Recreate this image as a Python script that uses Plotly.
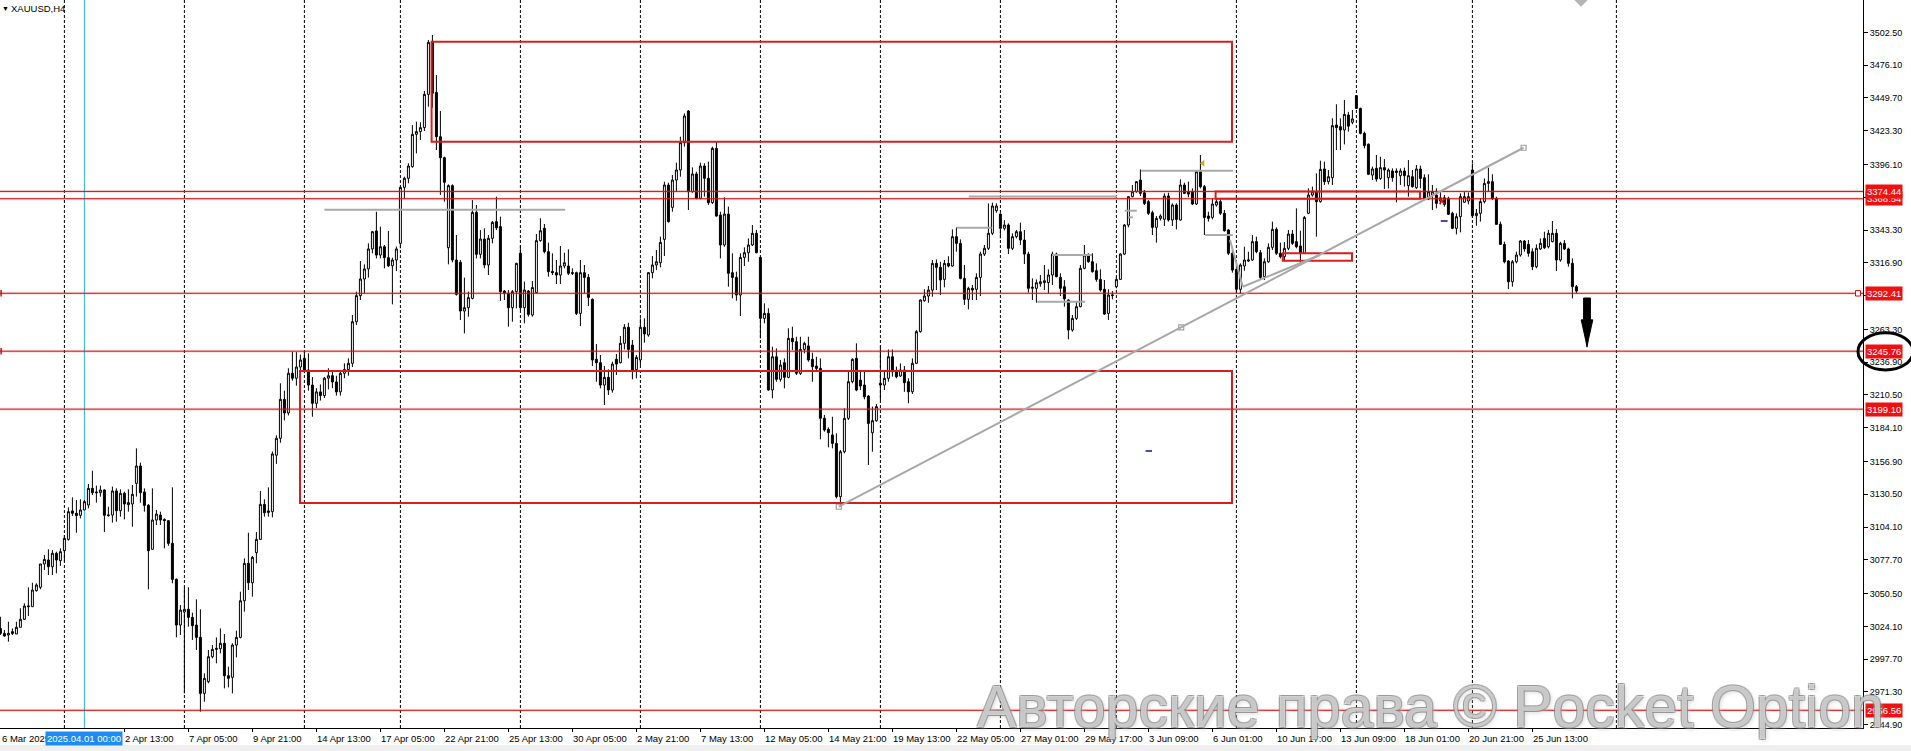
import plotly.graph_objects as go

# ---------------- data (H4 bars, index 0 = 31 Mar 01:00) ----------------
BAR = list(range(-16, 379))

OPEN = [
3022.5,3018.5,3017.2,3019.9,3018.0,3023.4,3029.8,3040.0,3040.0,3052.9,
3055.6,3074.4,3077.6,3072.2,3083.0,3077.1,3085.1,3094.2,3117.1,3115.2,
3113.6,3117.9,3121.9,3135.3,3132.4,3131.8,3134.0,3113.3,3113.8,3133.2,
3117.3,3131.3,3123.8,3122.7,3139.3,3153.3,3132.4,3121.6,3086.2,3109.8,
3113.8,3110.3,3109.3,3091.0,3062.0,3025.2,3035.7,3037.9,3031.4,3025.2,
3015.3,2970.2,2979.6,2999.7,3005.6,3006.2,3010.5,2984.4,2983.1,3009.1,
3015.3,3044.8,3074.9,3059.3,3083.5,3094.2,3122.4,3117.1,3116.5,3162.0,
3175.6,3207.0,3196.0,3228.0,3224.0,3233.0,3240.0,3230.6,3218.5,3203.8,
3213.0,3210.0,3224.0,3226.0,3221.0,3213.0,3228.0,3231.0,3236.0,3269.5,
3290.5,3303.9,3312.0,3328.1,3342.6,3323.2,3329.9,3321.1,3314.6,3319.2,
3332.6,3377.7,3385.0,3394.4,3420.4,3422.6,3425.8,3452.6,3494.5,3454.2,
3418.5,3401.6,3329.1,3379.1,3319.2,3317.3,3278.1,3280.8,3288.3,3357.6,
3323.8,3336.1,3315.2,3336.7,3350.1,3346.1,3294.2,3292.4,3280.8,3293.7,
3324.6,3280.8,3294.2,3274.9,3292.9,3334.8,3344.7,3325.9,3310.0,3309.0,
3307.1,3314.4,3314.4,3309.0,3309.0,3276.2,3309.0,3305.2,3287.5,3239.2,
3236.5,3218.5,3224.7,3214.5,3239.2,3236.5,3252.1,3265.0,3250.7,3230.9,
3238.7,3265.0,3258.8,3309.0,3315.2,3317.0,3335.8,3379.6,3361.6,3383.6,
3391.7,3413.7,3439.2,3374.2,3388.5,3368.9,3394.9,3385.0,3365.4,3409.1,
3355.4,3331.3,3356.2,3309.0,3305.2,3291.0,3321.3,3325.1,3331.3,3340.7,
3321.3,3272.2,3276.2,3214.5,3241.3,3223.1,3236.5,3224.7,3256.1,3253.4,
3227.9,3247.2,3250.0,3239.2,3233.8,3231.9,3191.7,3182.8,3178.3,3171.5,
3128.6,3164.8,3191.7,3221.2,3240.0,3222.5,3218.5,3209.6,3180.1,3189.8,
3219.9,3218.5,3223.9,3241.3,3229.2,3225.8,3230.6,3221.2,3213.1,3236.0,
3261.5,3286.4,3290.2,3295.0,3316.5,3313.3,3303.6,3316.5,3314.4,3338.0,
3332.6,3304.4,3287.5,3296.4,3295.6,3305.2,3324.0,3328.6,3340.7,3358.9,
3356.2,3344.7,3347.4,3328.6,3338.0,3342.0,3335.3,3324.0,3296.4,3296.4,
3300.1,3301.0,3301.0,3307.1,3324.0,3305.2,3297.7,3287.0,3262.8,3272.2,
3281.6,3312.5,3323.2,3317.8,3310.6,3303.6,3295.6,3276.2,3290.5,3297.7,
3303.6,3324.0,3347.4,3370.2,3374.2,3383.6,3373.4,3366.2,3357.3,3345.5,
3352.7,3352.0,3370.7,3351.4,3363.5,3351.4,3379.6,3374.2,3374.2,3364.3,
3390.3,3378.3,3354.6,3353.5,3363.5,3366.2,3356.8,3343.4,3324.6,3311.7,
3295.6,3314.4,3318.4,3319.2,3334.0,3325.1,3305.8,3317.8,3329.4,3343.9,
3324.6,3321.9,3328.6,3340.1,3334.0,3330.5,3324.6,3356.8,3371.5,3374.2,
3366.2,3392.5,3382.3,3385.5,3427.9,3426.6,3423.9,3436.0,3430.1,3451.6,
3441.3,3421.2,3412.4,3387.6,3393.0,3384.9,3393.6,3385.5,3390.9,3390.9,
3387.1,3390.9,3379.1,3386.3,3377.4,3392.5,3385.5,3368.3,3371.5,3371.5,
3366.7,3369.3,3368.8,3356.8,3344.7,3354.1,3365.7,3366.7,3391.7,3354.9,
3356.8,3366.2,3380.9,3382.3,3368.8,3347.9,3331.8,3318.4,3301.7,3317.8,
3323.2,3334.5,3331.8,3325.9,3313.8,3328.1,3336.6,3329.9,3334.0,3340.7,
3319.2,3332.6,3328.1,3316.5,3297.7]

HIGH = [
3031.9,3021.2,3027.9,3022.5,3027.9,3038.7,3042.7,3055.6,3059.3,3058.8,
3074.4,3081.6,3086.2,3085.6,3084.3,3087.0,3097.7,3120.0,3128.1,3125.9,
3126.5,3125.9,3138.8,3149.5,3137.5,3137.5,3134.5,3120.5,3136.7,3135.3,
3134.5,3132.6,3134.5,3138.0,3167.5,3156.0,3135.3,3122.7,3135.3,3117.9,
3116.5,3111.1,3109.8,3136.1,3062.8,3041.3,3055.6,3055.6,3035.2,3045.9,
3037.9,2986.3,3005.1,3009.1,3015.3,3022.5,3018.0,2991.7,3010.5,3020.7,
3052.1,3078.9,3099.6,3080.8,3100.1,3133.2,3126.5,3136.1,3165.0,3178.0,
3219.9,3214.0,3232.0,3245.4,3245.0,3243.0,3245.5,3244.0,3225.0,3216.0,
3219.0,3225.0,3232.0,3230.0,3226.0,3230.0,3236.0,3240.0,3274.9,3293.7,
3318.4,3315.7,3332.6,3342.6,3358.1,3346.1,3331.3,3342.6,3321.1,3330.0,
3378.3,3386.3,3397.1,3427.9,3430.6,3430.1,3455.3,3496.4,3500.4,3468.2,
3439.2,3402.4,3380.1,3380.1,3339.3,3319.2,3305.0,3293.7,3367.5,3363.5,
3343.4,3344.7,3339.3,3350.6,3370.2,3354.1,3295.0,3295.0,3295.0,3317.0,
3331.3,3301.8,3295.0,3302.3,3340.1,3352.8,3348.2,3333.2,3324.6,3319.2,
3330.5,3325.1,3327.8,3312.5,3309.8,3319.2,3315.2,3307.9,3288.3,3251.5,
3242.7,3233.8,3231.1,3237.3,3243.5,3258.0,3267.6,3268.7,3254.8,3242.7,
3272.2,3272.2,3309.5,3322.4,3327.3,3338.0,3382.3,3381.5,3387.7,3397.6,
3418.5,3437.3,3440.0,3393.8,3390.3,3397.6,3397.1,3398.4,3410.5,3414.5,
3358.1,3369.7,3362.2,3324.6,3309.8,3324.6,3329.4,3336.6,3347.4,3343.4,
3321.9,3284.3,3280.3,3249.4,3248.0,3238.7,3240.0,3264.2,3265.5,3257.4,
3257.4,3253.4,3257.4,3244.6,3241.3,3240.0,3194.4,3184.4,3193.0,3179.6,
3166.2,3199.7,3229.2,3240.0,3252.1,3229.2,3230.6,3210.4,3201.1,3203.2,
3249.9,3230.6,3247.2,3247.2,3233.3,3235.9,3233.8,3223.9,3240.0,3262.8,
3287.5,3295.6,3298.3,3319.2,3319.7,3317.8,3319.2,3322.2,3343.9,3345.5,
3335.8,3315.2,3297.7,3299.1,3308.5,3325.9,3331.3,3364.8,3365.4,3364.8,
3356.8,3351.3,3348.7,3340.7,3343.4,3349.3,3343.4,3325.9,3304.4,3303.6,
3307.1,3315.2,3311.7,3325.9,3325.1,3308.5,3303.0,3287.5,3274.9,3285.6,
3315.2,3331.3,3324.6,3324.6,3316.5,3311.7,3303.1,3295.6,3294.2,3305.2,
3324.6,3348.2,3370.7,3379.6,3382.8,3392.2,3375.6,3367.5,3358.9,3354.6,
3356.0,3372.9,3373.4,3364.8,3364.8,3384.2,3381.5,3382.3,3376.9,3391.7,
3403.8,3379.6,3358.1,3368.9,3368.9,3368.1,3359.5,3343.9,3329.9,3312.5,
3316.5,3329.9,3325.9,3339.3,3338.0,3327.2,3320.5,3332.6,3350.1,3345.5,
3333.2,3333.7,3343.4,3343.4,3360.8,3342.8,3354.6,3376.9,3378.3,3389.0,
3399.2,3398.4,3391.7,3433.3,3444.6,3433.3,3448.1,3438.5,3440.0,3452.1,
3441.9,3422.6,3413.1,3394.4,3403.8,3402.4,3400.5,3393.0,3393.0,3393.0,
3393.0,3393.6,3399.7,3391.7,3395.7,3395.2,3388.2,3388.2,3379.6,3376.9,
3374.2,3371.5,3370.2,3358.1,3356.8,3372.9,3374.2,3373.7,3397.0,3360.3,
3368.9,3384.9,3393.6,3388.2,3370.2,3350.1,3334.0,3319.2,3319.2,3325.9,
3335.3,3335.3,3335.3,3328.6,3331.8,3336.6,3342.0,3343.4,3350.6,3344.1,
3333.9,3335.3,3329.1,3320.5,3299.1]

LOW = [
3017.2,3015.8,3011.8,3017.2,3018.0,3023.4,3029.3,3032.5,3040.0,3052.1,
3054.0,3069.5,3065.5,3065.5,3066.9,3072.8,3076.2,3093.2,3113.0,3099.6,
3111.1,3117.9,3119.2,3129.9,3123.8,3128.6,3100.1,3112.5,3107.7,3108.5,
3112.5,3110.3,3116.5,3104.4,3128.6,3123.8,3116.5,3054.0,3086.2,3105.8,
3105.8,3087.0,3089.0,3058.8,3015.3,3017.2,2970.2,3023.9,3013.2,3005.1,
2955.4,2963.5,2978.3,2998.4,2994.4,3002.4,2974.2,2975.0,2970.2,2999.2,
3014.5,3036.0,3053.4,3048.1,3074.9,3093.7,3112.5,3112.5,3112.0,3155.0,
3172.0,3190.0,3194.0,3222.0,3218.0,3226.0,3228.0,3214.0,3193.0,3200.0,
3206.0,3208.0,3215.0,3216.0,3210.0,3210.0,3224.0,3226.0,3233.0,3266.9,
3287.0,3292.4,3305.0,3324.6,3320.5,3320.5,3312.5,3313.5,3283.5,3310.3,
3328.6,3368.9,3381.0,3393.5,3405.1,3415.9,3423.1,3442.7,3441.9,3407.8,
3371.6,3366.2,3315.7,3317.3,3290.5,3270.9,3260.1,3273.6,3287.5,3320.5,
3320.5,3312.5,3307.1,3332.6,3343.4,3286.2,3287.0,3265.5,3269.5,3280.3,
3278.9,3268.2,3273.6,3273.6,3292.3,3333.9,3324.6,3305.8,3307.1,3299.9,
3299.9,3312.5,3307.1,3307.1,3274.9,3266.0,3292.3,3282.2,3233.8,3221.2,
3215.8,3202.4,3210.5,3212.4,3226.6,3235.9,3247.2,3240.0,3223.1,3223.9,
3234.6,3252.6,3257.4,3304.4,3311.1,3313.3,3322.4,3349.3,3358.1,3374.2,
3386.3,3410.5,3359.5,3373.4,3368.1,3368.1,3370.2,3363.5,3364.3,3354.1,
3320.5,3329.9,3297.7,3288.3,3286.4,3274.1,3314.4,3317.8,3330.5,3324.6,
3256.1,3268.2,3213.9,3207.8,3221.2,3221.2,3215.8,3223.9,3246.7,3226.6,
3226.6,3244.0,3237.3,3221.2,3230.6,3174.8,3180.9,3168.3,3167.5,3127.2,
3120.5,3163.5,3190.3,3219.9,3213.5,3214.5,3207.0,3154.1,3164.8,3189.0,
3206.4,3214.5,3221.2,3225.2,3223.9,3225.2,3213.1,3203.8,3211.3,3235.4,
3260.7,3285.6,3284.8,3289.7,3295.0,3291.0,3297.2,3313.3,3313.8,3325.9,
3303.6,3283.0,3279.5,3287.0,3287.0,3290.2,3322.4,3327.2,3339.3,3357.3,
3336.6,3343.1,3324.0,3327.2,3336.6,3331.3,3316.0,3292.9,3287.0,3284.8,
3297.7,3295.0,3292.4,3299.1,3305.2,3290.2,3281.6,3255.3,3261.5,3270.9,
3281.1,3311.7,3317.0,3309.0,3301.7,3293.7,3274.9,3270.9,3287.5,3296.4,
3303.1,3323.2,3345.5,3369.7,3373.4,3370.7,3363.5,3355.4,3339.3,3333.2,
3351.0,3346.6,3350.1,3346.6,3343.9,3350.9,3372.3,3369.7,3363.5,3363.5,
3376.9,3339.3,3350.1,3351.9,3362.2,3355.4,3342.0,3323.2,3309.0,3292.4,
3292.4,3310.6,3317.6,3318.6,3324.6,3303.6,3303.1,3317.0,3327.2,3323.2,
3320.5,3318.6,3327.2,3331.3,3328.6,3317.0,3324.0,3356.2,3370.2,3338.0,
3365.4,3379.6,3380.1,3379.6,3407.8,3407.8,3412.3,3422.6,3428.5,3440.8,
3420.4,3409.1,3387.6,3383.6,3382.3,3383.6,3376.4,3376.9,3382.3,3365.6,
3379.6,3378.3,3370.2,3377.4,3376.4,3376.9,3367.5,3367.5,3359.5,3360.8,
3364.0,3362.2,3355.4,3344.1,3339.8,3341.5,3365.6,3364.0,3353.3,3346.8,
3350.1,3364.8,3374.2,3367.5,3347.4,3331.3,3316.5,3295.8,3297.7,3316.5,
3321.9,3325.9,3321.9,3311.1,3312.5,3327.2,3328.1,3328.6,3333.4,3310.3,
3317.8,3327.2,3313.8,3288.3,3292.4]

CLOSE = [
3018.5,3016.4,3018.5,3018.5,3023.4,3029.8,3040.5,3040.5,3053.4,3057.5,
3074.4,3078.1,3072.2,3083.0,3077.6,3084.3,3095.0,3116.5,3115.2,3113.3,
3117.9,3124.6,3135.3,3131.8,3131.8,3134.0,3113.6,3113.8,3133.2,3117.3,
3131.3,3122.7,3122.2,3130.5,3153.3,3131.8,3121.6,3085.1,3109.8,3114.6,
3109.8,3109.3,3091.0,3062.0,3025.2,3037.3,3037.9,3031.4,3024.7,3015.3,
2970.2,2982.3,2999.7,3005.6,3006.4,3010.5,2984.4,2982.3,3009.1,3015.3,
3044.8,3074.9,3059.3,3079.7,3094.2,3122.4,3115.7,3116.0,3163.0,3175.6,
3207.0,3196.0,3228.0,3224.0,3233.0,3238.7,3230.6,3218.5,3203.8,3213.0,
3210.0,3224.0,3226.0,3221.0,3213.0,3228.0,3231.0,3236.0,3269.5,3290.5,
3303.9,3312.0,3328.1,3342.0,3323.2,3329.9,3321.1,3314.6,3319.2,3328.1,
3377.7,3385.0,3394.9,3420.4,3422.6,3425.8,3452.6,3494.5,3453.4,3418.5,
3401.6,3381.8,3379.1,3319.2,3291.5,3278.1,3280.8,3288.9,3357.6,3323.8,
3336.1,3315.2,3336.7,3349.5,3345.2,3293.7,3292.4,3280.8,3293.7,3316.5,
3280.8,3295.0,3275.4,3297.0,3334.8,3342.8,3325.9,3309.8,3309.0,3307.1,
3314.4,3317.0,3308.5,3308.5,3276.2,3309.0,3305.2,3289.1,3238.7,3236.5,
3218.5,3224.7,3214.5,3235.4,3235.4,3252.1,3265.0,3247.2,3230.6,3240.8,
3265.0,3259.6,3309.0,3315.2,3317.8,3333.4,3379.6,3350.1,3383.6,3391.7,
3413.7,3435.2,3374.2,3388.5,3368.9,3394.9,3385.0,3365.4,3409.1,3354.6,
3331.3,3356.2,3308.5,3305.2,3291.0,3321.3,3325.1,3331.3,3340.7,3325.1,
3272.2,3276.2,3214.5,3241.3,3223.1,3234.6,3224.7,3256.1,3253.4,3227.9,
3247.2,3252.1,3238.7,3233.3,3231.9,3191.7,3182.3,3180.1,3171.5,3128.6,
3164.8,3191.7,3221.2,3239.2,3214.5,3217.7,3209.1,3187.6,3189.8,3201.1,
3218.5,3223.9,3241.3,3229.2,3225.2,3230.6,3220.4,3213.1,3236.0,3261.5,
3287.0,3290.2,3295.0,3316.5,3313.3,3303.1,3316.5,3314.4,3338.0,3332.6,
3304.4,3287.5,3296.4,3295.0,3305.2,3324.0,3328.6,3340.7,3362.7,3362.7,
3344.7,3347.4,3328.6,3338.0,3342.0,3335.3,3324.0,3296.4,3297.2,3300.9,
3301.7,3302.5,3307.1,3324.0,3305.8,3296.4,3288.0,3262.8,3272.2,3281.6,
3312.5,3323.2,3317.8,3309.8,3303.6,3295.0,3275.7,3291.0,3291.0,3303.6,
3324.0,3347.4,3370.2,3374.2,3382.3,3372.9,3364.8,3356.8,3345.5,3352.7,
3354.6,3370.7,3351.4,3363.5,3351.9,3379.6,3372.9,3372.3,3364.3,3390.3,
3378.3,3353.5,3352.7,3364.3,3366.2,3356.8,3342.8,3324.6,3311.1,3295.6,
3315.2,3319.2,3319.2,3334.0,3325.9,3305.2,3317.8,3329.4,3343.9,3324.6,
3321.9,3328.6,3340.1,3332.6,3329.9,3324.6,3353.5,3371.5,3374.2,3366.2,
3392.2,3382.3,3386.3,3427.4,3425.8,3423.9,3436.5,3427.0,3432.8,3441.3,
3421.2,3411.3,3388.2,3392.5,3384.4,3393.6,3391.7,3391.7,3385.5,3389.8,
3390.9,3387.1,3387.1,3378.3,3392.5,3384.9,3368.3,3374.2,3374.2,3364.8,
3369.3,3364.0,3356.0,3344.7,3354.1,3370.2,3370.2,3370.2,3354.9,3356.8,
3366.2,3380.9,3382.3,3368.8,3347.9,3331.8,3317.8,3301.7,3317.8,3323.2,
3334.5,3328.1,3324.6,3313.8,3328.6,3332.6,3329.1,3340.7,3340.7,3319.2,
3332.6,3328.1,3316.5,3297.7,3294.2]

# price axis ticks (as printed by the terminal)
YTICK_VALS = [3502.50, 3476.10, 3449.70, 3423.30, 3396.10, 3369.70, 3343.30,
              3316.90, 3290.50, 3263.30, 3236.90, 3210.50, 3184.10, 3156.90,
              3130.50, 3104.10, 3077.70, 3050.50, 3024.10, 2997.70, 2971.30, 2944.90]

# time axis labels (bar index -> text)
XTICK_BARS = [15, 31, 47, 63, 79, 95, 111, 127, 143, 159, 175, 191, 207, 223,
              239, 255, 271, 287, 303, 319, 335, 351, 367]
XTICK_TEXT = ["2 Apr 13:00", "7 Apr 05:00", "9 Apr 21:00", "14 Apr 13:00",
              "17 Apr 05:00", "22 Apr 21:00", "25 Apr 13:00", "30 Apr 05:00",
              "2 May 21:00", "7 May 13:00", "12 May 05:00", "14 May 21:00",
              "19 May 13:00", "22 May 05:00", "27 May 01:00", "29 May 17:00",
              "3 Jun 09:00", "6 Jun 01:00", "10 Jun 17:00", "13 Jun 09:00",
              "18 Jun 01:00", "20 Jun 21:00", "25 Jun 13:00"]
FIRST_LABEL = "6 Mar 2025"
CURSOR_BAR = 5
CURSOR_TEXT = "2025.04.01 00:00"

# weekly separators (bar index)
WEEK_BARS = [0, 30, 60, 84, 114, 144, 174, 204, 234, 263, 293, 323, 352, 388]

# horizontal levels
LEVELS = [3374.44, 3368.54, 3292.41, 3245.76, 3199.10, 2956.56]
LEVEL_TEXT = ["3374.44", "3368.54", "3292.41", "3245.76", "3199.10", "2956.56"]

# zones: (bar_from, bar_to, price_low, price_high)
ZONES = [(91.8, 291.9, 3414.5, 3495.0),
         (58.9, 291.9, 3123.5, 3229.8),
         (304.6, 321.9, 3318.6, 3324.6),
         (287.8, 338.9, 3368.54, 3374.44)]

# grey horizontal segments: (bar_from, bar_to, price)
GREY_SEGS = [(65.0, 125.2, 3359.6), (226.1, 263.2, 3370.3), (223.1, 231.8, 3345.2),
             (246.9, 256.9, 3323.2), (243.2, 255.2, 3285.6), (269.2, 292.1, 3391.1),
             (285.2, 292.1, 3339.3), (265.1, 268.1, 3358.9), (265.9, 267.1, 3353.6)]

# trend lines: (bar0, price0, bar1, price1)
TREND_MAIN = (193.6, 3120.5, 364.8, 3409.6)
TREND_MID = (279.2, 3265.0)
TREND_SECOND = (294.6, 3297.7, 313.9, 3323.2)
TREND_SHORT = (291.4, 3335.3, 294.6, 3297.7)

# ---------------- layout geometry ----------------
W, H = 1911, 751
ML, MR, MT, MB = 0, 48, 0, 23
PW = W - ML - MR
PH = H - MT - MB
X_RANGE = [-16.1, 449.65]
Y_RANGE = [2942.3, 3528.6]

FONT = "Liberation Sans, Arial, sans-serif"

fig = go.Figure()

fig.add_trace(go.Candlestick(
    x=BAR, open=OPEN, high=HIGH, low=LOW, close=CLOSE,
    increasing=dict(line=dict(color="black", width=1), fillcolor="white"),
    decreasing=dict(line=dict(color="black", width=1), fillcolor="black"),
    whiskerwidth=0, hoverinfo="skip", showlegend=False))

shapes = []
# weekly dashed separators (behind candles)
for b in WEEK_BARS:
    shapes.append(dict(type="line", xref="x", yref="paper", x0=b, x1=b, y0=0, y1=1,
                       line=dict(color="black", width=1, dash="3px,2px"), layer="below"))
# cursor line
shapes.append(dict(type="line", xref="x", yref="paper", x0=CURSOR_BAR, x1=CURSOR_BAR,
                   y0=0, y1=1, line=dict(color="#2ab6e4", width=1), layer="below"))
# horizontal levels
for lv in LEVELS:
    shapes.append(dict(type="line", xref="paper", yref="y", x0=0, x1=1, y0=lv, y1=lv,
                       line=dict(color="rgba(230,60,60,0.18)", width=3), layer="above"))
    shapes.append(dict(type="line", xref="paper", yref="y", x0=0, x1=1, y0=lv, y1=lv,
                       line=dict(color="#cc1010", width=1), layer="above"))
for lv in (3292.41, 3245.76):
    shapes.append(dict(type="line", xref="paper", yref="y", x0=0.0006, x1=0.0006,
                       y0=lv - 2.6, y1=lv + 2.6, line=dict(color="#cc1010", width=1.5)))
# zones
for b0, b1, p0, p1 in ZONES:
    shapes.append(dict(type="rect", xref="x", yref="y", x0=b0, x1=b1, y0=p0, y1=p1,
                       line=dict(color="#d61e1e", width=2), fillcolor="rgba(0,0,0,0)",
                       layer="above"))
# grey segments
for b0, b1, p in GREY_SEGS:
    shapes.append(dict(type="line", xref="x", yref="y", x0=b0, x1=b1, y0=p, y1=p,
                       line=dict(color="#a9a9a9", width=2), layer="above"))
for tl in (TREND_MAIN, TREND_SECOND, TREND_SHORT):
    shapes.append(dict(type="line", xref="x", yref="y", x0=tl[0], y0=tl[1], x1=tl[2], y1=tl[3],
                       line=dict(color="#a8a8a8", width=2), layer="above"))
# small blue dashes
for b0, b1, p in [(270.3, 271.9, 3165.4), (344.1, 345.8, 3350.6)]:
    shapes.append(dict(type="line", xref="x", yref="y", x0=b0, x1=b1, y0=p, y1=p,
                       line=dict(color="#10108a", width=1.5), layer="above"))
# down arrow
ax = 380.65
arrow_path = (f"M {ax-0.85},3288.6 L {ax+0.85},3288.6 L {ax+0.85},3271.0 "
              f"L {ax+1.45},3271.0 L {ax+0.35},3255.0 L {ax},3249.0 L {ax-0.35},3255.0 "
              f"L {ax-1.45},3271.0 L {ax-0.85},3271.0 Z")
shapes.append(dict(type="path", xref="x", yref="y", path=arrow_path,
                   fillcolor="black", line=dict(color="black", width=1), layer="above"))
# small square at the end of 3292.41
shapes.append(dict(type="rect", xref="paper", yref="y", x0=1855.5 / PW, x1=1860.5 / PW,
                   y0=3290.2, y1=3294.6, line=dict(color="#cc1010", width=1),
                   fillcolor="white"))
# light strip under the time scale
shapes.append(dict(type="rect", xref="paper", yref="paper", x0=-0.01, x1=W / PW + 0.01,
                   y0=-(H - PH + 2) / PH, y1=-(745 - PH) / PH,
                   line=dict(width=0), fillcolor="#efefef", layer="below"))
# black ellipse around 3245.76 label
shapes.append(dict(type="circle", xref="paper", yref="y", x0=1858 / PW, x1=1913 / PW,
                   y0=3245.76 - 15.2, y1=3245.76 + 14.8,
                   line=dict(color="black", width=3), layer="above"))

# markers: trend line anchors, objects
fig.add_trace(go.Scatter(
    x=[TREND_MAIN[0], TREND_MID[0], TREND_MAIN[2]],
    y=[TREND_MAIN[1], TREND_MID[1], TREND_MAIN[3]],
    mode="markers", marker=dict(symbol="square-open", size=5, color="#a0a0a0",
                                line=dict(width=1.2, color="#a0a0a0")),
    hoverinfo="skip", showlegend=False))
fig.add_trace(go.Scatter(x=[284.6], y=[3397.1], mode="markers",
                         marker=dict(symbol="triangle-left", size=6, color="#d9a521"),
                         hoverinfo="skip", showlegend=False))
fig.add_trace(go.Scatter(x=[344.4], y=[3366.5], mode="markers",
                         marker=dict(symbol="x-thin", size=5, line=dict(width=1.5, color="#e01010")),
                         hoverinfo="skip", showlegend=False))
fig.add_trace(go.Scatter(x=[379.15], y=[3528.4], mode="markers",
                         marker=dict(symbol="diamond", size=10, color="#b4b4b4"),
                         hoverinfo="skip", showlegend=False))

annotations = []
lab_y = -(738 - PH) / PH
annotations.append(dict(text=FIRST_LABEL, xref="paper", yref="paper", x=0, y=lab_y,
                        xanchor="left", yanchor="middle", showarrow=False,
                        font=dict(family=FONT, size=9.5, color="black")))
for b, t in zip(XTICK_BARS, XTICK_TEXT):
    annotations.append(dict(text=t, xref="x", yref="paper", x=b, y=lab_y, xshift=-1,
                            xanchor="left", yanchor="middle", showarrow=False,
                            font=dict(family=FONT, size=9.5, color="black")))
annotations.append(dict(text=CURSOR_TEXT, xref="x", yref="paper", x=CURSOR_BAR, y=lab_y,
                        xanchor="center", yanchor="middle", showarrow=False,
                        bgcolor="#1e8cf5", borderpad=1,
                        font=dict(family=FONT, size=9.5, color="white")))
# level price labels on the scale (lower one first so upper overlaps it)
order = [1, 0, 2, 3, 4, 5]
for k in order:
    annotations.append(dict(text=LEVEL_TEXT[k], xref="paper", yref="y", x=1, y=LEVELS[k],
                            xshift=2, xanchor="left", yanchor="middle", showarrow=False,
                            bgcolor="#f01010", borderpad=1,
                            font=dict(family=FONT, size=9.5, color="white")))
annotations.append(dict(text="▼", xref="paper", yref="paper", x=0, y=1, xshift=0,
                        yshift=-8, xanchor="left", yanchor="middle", showarrow=False,
                        font=dict(family=FONT, size=7, color="black")))
annotations.append(dict(text="XAUUSD,H4", xref="paper", yref="paper", x=0, y=1, xshift=9,
                        yshift=-8.5, xanchor="left", yanchor="middle", showarrow=False,
                        font=dict(family=FONT, size=9.5, color="black")))
annotations.append(dict(text="Авторские права © Pocket Option", xref="paper", yref="paper",
                        x=1430 / PW, y=(PH - 707) / PH, xanchor="center", yanchor="middle",
                        showarrow=False,
                        font=dict(family=FONT, size=59, color="rgba(255,255,255,0.55)",
                                  shadow="1px 1px 0 #828282, -1px -1px 0 #828282, 1px -1px 0 #828282, -1px 1px 0 #828282, 2px 2px 4px #bdbdbd")))

fig.update_layout(
    width=W, height=H, autosize=False,
    margin=dict(l=ML, r=MR, t=MT, b=MB, pad=0, autoexpand=False),
    paper_bgcolor="white", plot_bgcolor="white",
    shapes=shapes, annotations=annotations, showlegend=False,
    xaxis=dict(range=X_RANGE, rangeslider=dict(visible=False), showgrid=False,
               zeroline=False, showline=True, linecolor="black", linewidth=1, mirror=True,
               ticks="outside", ticklen=3, tickcolor="black", tickvals=XTICK_BARS,
               showticklabels=False, fixedrange=True, automargin=False),
    yaxis=dict(range=Y_RANGE, side="right", showgrid=False, zeroline=False,
               showline=True, linecolor="black", linewidth=1, ticks="outside",
               ticklen=4, tickcolor="black", tickvals=YTICK_VALS,
               ticktext=[f"{v:.2f}" for v in YTICK_VALS],
               tickfont=dict(family=FONT, size=9, color="black"), fixedrange=True,
               automargin=False),
)

fig.write_html("out.html", config={"displayModeBar": False},
               post_script="document.body.style.margin='0px';document.body.style.padding='0px';document.body.style.overflow='hidden';")
